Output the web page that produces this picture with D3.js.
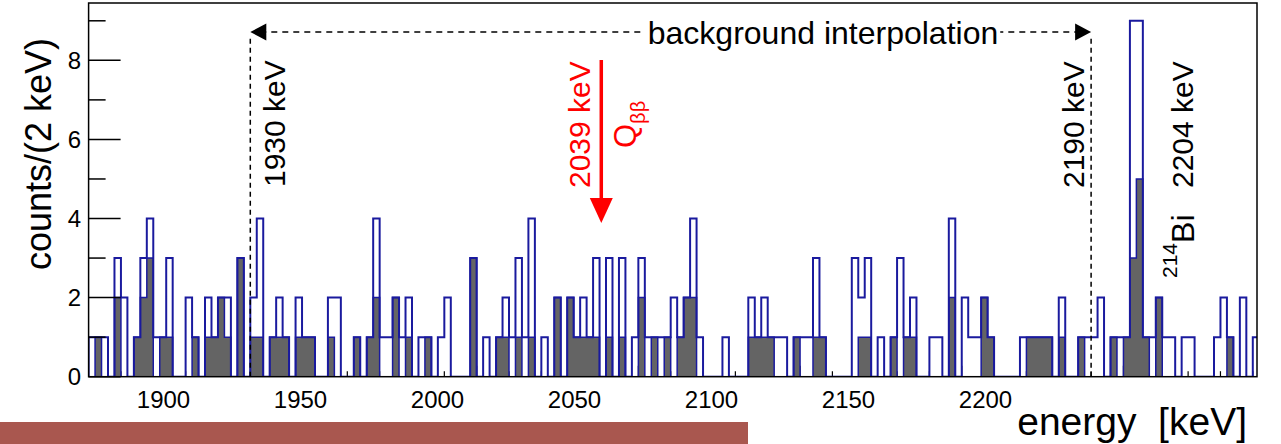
<!DOCTYPE html>
<html>
<head>
<meta charset="utf-8">
<script src="https://cdn.jsdelivr.net/npm/d3@7"></script>
<style>
  body { margin: 0; background: #fff; }
  svg { display: block; font-family: "Liberation Sans", Arial, Helvetica, sans-serif; }
</style>
</head>
<body>
<svg id="chart" width="1281" height="444"></svg>
<script>
// 2 keV bins starting at 1880 keV
const energyStart = 1880;
const binWidth = 2;

// all events (open blue histogram)
const allCounts = [
    1, 1, 1, 0, 3, 2, 0, 1, 3, 4, 1, 1, 3, 0, 0, 2, 1, 0, 2, 1,
    2, 2, 0, 3, 0, 2, 4, 0, 1, 2, 1, 0, 2, 1, 1, 0, 0, 2, 2, 0,
    0, 1, 0, 1, 4, 1, 1, 2, 1, 2, 0, 1, 1, 0, 1, 2, 0, 0, 0, 3,
    0, 1, 0, 1, 2, 1, 3, 1, 4, 0, 1, 0, 2, 0, 2, 1, 2, 1, 3, 0,
    3, 0, 3, 0, 1, 3, 1, 1, 1, 1, 2, 1, 2, 4, 1, 0, 0, 0, 1, 0,
    0, 0, 2, 1, 2, 1, 1, 1, 0, 1, 1, 1, 3, 1, 0, 0, 0, 0, 3, 2,
    3, 0, 1, 0, 1, 3, 1, 2, 0, 0, 1, 1, 0, 4, 0, 2, 1, 1, 2, 1,
    0, 0, 0, 0, 1, 1, 1, 1, 1, 0, 2, 0, 0, 1, 1, 1, 2, 0, 1, 1,
    1, 9, 9, 1, 1, 2, 1, 1, 0, 1, 1, 0, 0, 0, 1, 2, 1, 0, 2, 0,
    1
];

// selected events (filled grey histogram)
const selectedCounts = [
    0, 1, 0, 0, 2, 0, 0, 1, 2, 3, 0, 1, 1, 0, 0, 0, 1, 0, 1, 1,
    2, 1, 0, 3, 0, 1, 1, 0, 1, 1, 1, 0, 1, 1, 1, 0, 0, 1, 0, 0,
    0, 1, 0, 1, 2, 0, 0, 2, 0, 1, 0, 0, 1, 0, 0, 0, 0, 0, 0, 3,
    0, 0, 0, 1, 1, 0, 1, 0, 1, 0, 0, 0, 2, 0, 2, 1, 1, 1, 1, 0,
    1, 0, 1, 0, 0, 2, 0, 1, 0, 1, 0, 1, 2, 2, 0, 0, 0, 0, 0, 0,
    0, 0, 1, 1, 1, 1, 0, 0, 0, 1, 0, 0, 1, 1, 0, 0, 0, 0, 0, 1,
    1, 0, 0, 0, 1, 0, 1, 1, 0, 0, 0, 0, 0, 2, 0, 0, 0, 0, 2, 1,
    0, 0, 0, 0, 0, 1, 1, 1, 1, 0, 1, 0, 0, 1, 0, 0, 0, 0, 1, 0,
    1, 3, 5, 1, 0, 2, 0, 0, 0, 0, 0, 0, 0, 0, 0, 0, 1, 0, 0, 0,
    0
];

const tickLabels = [1900, 1950, 2000, 2050, 2100, 2150, 2200];
const yTickValues = [0, 1, 2, 3, 4, 5, 6, 7, 8, 9];

// annotation energies
const windowLow = 1930;
const windowHigh = 2190;
const qbb = 2039;
const biLine = 2204;

const frame = { left: 88.6, right: 1257, top: 3, bottom: 376.7 };

const svg = d3.select('#chart');

const x = d3.scaleLinear()
    .domain([energyStart, 2241.3])
    .range([frame.left, frame.right]);

// the printed tick labels sit on their own (shifted) scale in the original slide
const xLabel = d3.scaleLinear()
    .domain([1900, 2200])
    .range([163, 985]);

const y = d3.scaleLinear()
    .domain([0, 9.45])
    .range([frame.bottom, frame.top]);

const toBins = counts => {
    const pts = counts.map((v, i) => ({ e: energyStart + i * binWidth, v }));
    pts.push({ e: energyStart + counts.length * binWidth, v: counts[counts.length - 1] });
    return pts;
};

svg.append('defs')
    .append('clipPath')
    .attr('id', 'plot-clip')
    .append('rect')
    .attr('x', frame.left)
    .attr('y', frame.top)
    .attr('width', frame.right - frame.left)
    .attr('height', frame.bottom - frame.top);

// x ticks every 10 keV (real scale), longer at 50 keV
const xTickVals = d3.range(1890, 2241, 10);
svg.append('g')
    .selectAll('line')
    .data(xTickVals)
    .enter()
    .append('line')
    .attr('x1', d => x(d))
    .attr('x2', d => x(d))
    .attr('y1', frame.bottom)
    .attr('y2', d => frame.bottom - (d % 50 === 0 ? 11 : 5.5))
    .attr('stroke', '#000')
    .attr('stroke-width', 1.2);

const plot = svg.append('g').attr('clip-path', 'url(#plot-clip)');

const greyArea = d3.area()
    .curve(d3.curveStepAfter)
    .x(d => x(d.e))
    .y0(y(0))
    .y1(d => y(d.v));

const stepLine = d3.line()
    .curve(d3.curveStepAfter)
    .x(d => x(d.e))
    .y(d => y(d.v));

const greyBins = toBins(selectedCounts);
const allBins = toBins(allCounts);

plot.append('path')
    .datum(greyBins)
    .attr('d', greyArea)
    .attr('fill', '#646464');

plot.append('path')
    .datum([{ e: energyStart, v: 0 }, ...allBins])
    .attr('d', stepLine)
    .attr('fill', 'none')
    .attr('stroke', '#1a1a9e')
    .attr('stroke-width', 2);

plot.append('path')
    .datum([{ e: energyStart, v: 0 }, ...greyBins])
    .attr('d', stepLine)
    .attr('fill', 'none')
    .attr('stroke', '#1a1a9e')
    .attr('stroke-width', 1.5);

// frame
svg.append('rect')
    .attr('x', frame.left)
    .attr('y', frame.top)
    .attr('width', frame.right - frame.left)
    .attr('height', frame.bottom - frame.top)
    .attr('fill', 'none')
    .attr('stroke', '#000')
    .attr('stroke-width', 1.5);

// y ticks (inside) and labels
svg.append('g')
    .selectAll('line')
    .data(yTickValues)
    .enter()
    .append('line')
    .attr('x1', frame.left)
    .attr('x2', d => frame.left + (d % 2 === 0 ? 32 : 17))
    .attr('y1', d => y(d))
    .attr('y2', d => y(d))
    .attr('stroke', '#000')
    .attr('stroke-width', 1.5);

svg.append('g')
    .selectAll('text')
    .data(yTickValues.filter(d => d % 2 === 0))
    .enter()
    .append('text')
    .attr('x', 81)
    .attr('y', d => y(d))
    .attr('dy', '0.36em')
    .attr('text-anchor', 'end')
    .attr('font-size', 24)
    .text(d => d);

// x tick labels
const xAxis = d3.axisBottom(xLabel)
    .tickValues(tickLabels)
    .tickSize(0)
    .tickPadding(0)
    .tickFormat(d => d);

svg.append('g')
    .attr('transform', `translate(0, ${frame.bottom})`)
    .call(xAxis)
    .call(g => g.select('.domain').remove())
    .call(g => g.selectAll('text')
        .attr('font-size', 24)
        .attr('font-family', null)
        .attr('dy', null)
        .attr('y', 31)
        .attr('fill', '#000'));

// axis titles
svg.append('text')
    .attr('transform', 'translate(51, 154) rotate(-90)')
    .attr('text-anchor', 'middle')
    .attr('font-size', 36)
    .text('counts/(2 keV)');

svg.append('text')
    .attr('x', 1247)
    .attr('y', 435)
    .attr('text-anchor', 'end')
    .attr('font-size', 39)
    .attr('xml:space', 'preserve')
    .text('energy  [keV]');

// background window
const arrowY = 32;
const dash = '6,5';

[windowLow, windowHigh].forEach(e => {
    svg.append('line')
        .attr('x1', x(e))
        .attr('x2', x(e))
        .attr('y1', frame.bottom)
        .attr('y2', arrowY + 3)
        .attr('stroke', '#000')
        .attr('stroke-width', 1.5)
        .attr('stroke-dasharray', '5,4');
});

svg.append('line')
    .attr('x1', x(windowLow) + 10)
    .attr('x2', x(windowHigh) - 10)
    .attr('y1', arrowY)
    .attr('y2', arrowY)
    .attr('stroke', '#000')
    .attr('stroke-width', 1.5)
    .attr('stroke-dasharray', dash);

svg.append('path')
    .attr('d', `M${x(windowLow)},${arrowY} l16,-8.5 l0,17 Z`)
    .attr('fill', '#000');
svg.append('path')
    .attr('d', `M${x(windowHigh)},${arrowY} l-16,-8.5 l0,17 Z`)
    .attr('fill', '#000');

const bgText = svg.append('text')
    .attr('x', 823)
    .attr('y', arrowY)
    .attr('dy', '0.36em')
    .attr('text-anchor', 'middle')
    .attr('font-size', 32)
    .text('background interpolation');
const bb = bgText.node().getBBox();
svg.insert('rect', () => bgText.node())
    .attr('x', bb.x - 4)
    .attr('y', bb.y)
    .attr('width', bb.width + 6)
    .attr('height', bb.height)
    .attr('fill', '#fff');

// vertical labels
const vLabel = (px, startY, txt, color) => svg.append('text')
    .attr('transform', `translate(${px}, ${startY}) rotate(-90)`)
    .attr('font-size', 30)
    .attr('fill', color)
    .text(txt);

vLabel(x(windowLow) + 35, 187, '1930 keV', '#000');
vLabel(x(windowHigh) - 7, 188, '2190 keV', '#000');
vLabel(x(biLine) + 57, 188, '2204 keV', '#000');
vLabel(x(qbb) - 13, 188, '2039 keV', '#ff0000');

const bi = svg.append('text')
    .attr('transform', `translate(${x(biLine) + 58}, 278) rotate(-90)`)
    .attr('font-size', 32);
bi.append('tspan').attr('font-size', 21).attr('dy', -17).text('214');
bi.append('tspan').attr('dy', 17).text('Bi');

const q = svg.append('text')
    .attr('transform', `translate(${x(qbb) + 33}, 148) rotate(-90)`)
    .attr('font-size', 31)
    .attr('fill', '#ff0000');
q.append('tspan').text('Q');
q.append('tspan').attr('font-size', 20).attr('dy', 9).text('ββ');

// Q_bb arrow
svg.append('line')
    .attr('x1', x(qbb) - 1.5)
    .attr('x2', x(qbb) - 1.5)
    .attr('y1', 60)
    .attr('y2', 202)
    .attr('stroke', '#ff0000')
    .attr('stroke-width', 3.5);
svg.append('path')
    .attr('d', `M${x(qbb) - 13},198 L${x(qbb) + 10},198 L${x(qbb) - 1.5},223 Z`)
    .attr('fill', '#ff0000');

// slide decoration bar
svg.append('rect')
    .attr('x', 0)
    .attr('y', 422)
    .attr('width', 748)
    .attr('height', 22)
    .attr('fill', '#a9574f');
</script>
</body>
</html>
